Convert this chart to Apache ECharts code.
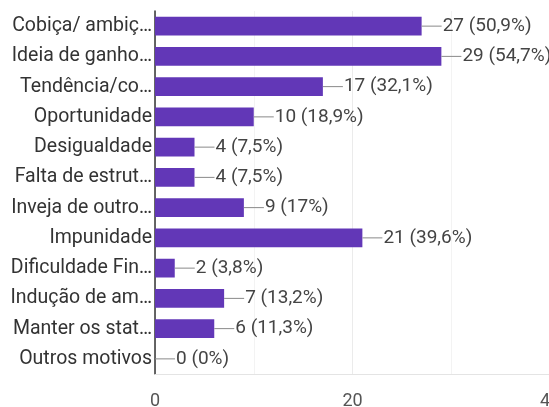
<!DOCTYPE html>
<html><head><meta charset="utf-8">
<script src="https://cdn.jsdelivr.net/npm/echarts@6/dist/echarts.min.js"></script>
<style>html,body{margin:0;padding:0;background:#fff}#c{width:549px;height:407px}</style>
</head><body><div id="c"></div>
<script>
const categories = ["Cobiça/ ambiç…","Ideia de ganho…","Tendência/co…","Oportunidade","Desigualdade","Falta de estrut…","Inveja de outro…","Impunidade","Dificuldade Fin…","Indução de am…","Manter os stat…","Outros motivos"];
const values = [27,29,17,10,4,4,9,21,2,7,6,0];
const percents = ["50,9%","54,7%","32,1%","18,9%","7,5%","7,5%","17%","39,6%","3,8%","13,2%","11,3%","0%"];
const xTicks = [0,20,40];

const chart = echarts.init(document.getElementById('c'), null, {renderer:'canvas'});
chart.setOption({
  animation:false,
  textStyle:{fontFamily:'Roboto'},
  grid:{left:155, right:-1, top:11, bottom:33, containLabel:false, outerBoundsMode:'none'},
  xAxis:{type:'value', min:0, max:40, interval:20,
    axisLine:{show:true, lineStyle:{color:'#e4e4e4'}}, axisTick:{show:false},
    axisLabel:{color:'#555', fontSize:18, margin:18, fontFamily:'Roboto', formatter:v=>String(v)},
    splitLine:{show:true, lineStyle:{color:'#ebebeb'}},
    minorTick:{show:false, splitNumber:2},
    minorSplitLine:{show:true, lineStyle:{color:'#f3f3f3'}}},
  yAxis:{type:'category', data:categories, inverse:true,
    axisLine:{show:true, lineStyle:{color:'#333', width:1.5}}, axisTick:{show:false},
    axisLabel:{color:'#333', fontSize:19.5, margin:3, fontFamily:'Roboto'}},
  series:[{type:'bar', data:values, barCategoryGap:'38%', itemStyle:{color:'#6237b7'},
    label:{show:true, position:'right', distance:0,
      formatter:p=>'{l|}{t|'+values[p.dataIndex]+' ('+percents[p.dataIndex]+')}',
      rich:{l:{width:20, height:1, backgroundColor:'#888'}, t:{color:'#444', fontSize:19, fontFamily:'Roboto', padding:[0,0,0,1]}}}}]
});
</script></body></html>
